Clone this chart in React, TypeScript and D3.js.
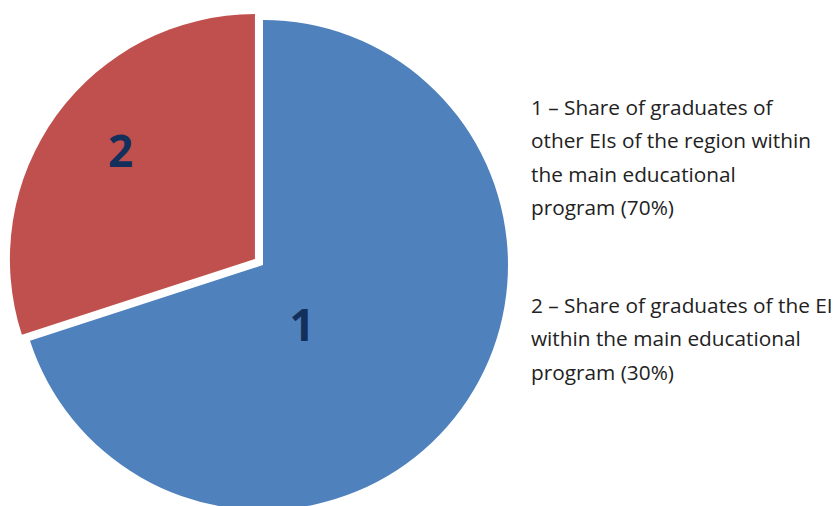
import React from "react";
import * as d3 from "d3";

const categories = ["1", "2"];
const values = [70, 30];
const colors = ["#4F81BD", "#C0504D"];
const legendLines = [
  ["1 – Share of graduates of", "other EIs of the region within", "the main educational", "program (70%)"],
  ["2 – Share of graduates of the EI", "within the main educational", "program (30%)"],
];
const explode = [0, 10];
// label placement: [radius, angle in degrees from top clockwise]
const labelPolar = [[71, 146.5], [173, 309]];

export default function App() {
  const W = 838, H = 506;
  const cx = 263, cy = 265, R = 245;
  const pie = d3.pie<number>().sort(null).value((d) => d)(values);
  const arc = d3.arc<d3.PieArcDatum<number>>().innerRadius(0).outerRadius(R);
  return (
    <svg width={W} height={H} style={{ position: "absolute", left: 0, top: 0, background: "#fff" }}>
      <g transform={`translate(${cx},${cy})`}>
        {pie.map((p, i) => {
          const mid = (p.startAngle + p.endAngle) / 2;
          const dx = Math.sin(mid) * explode[i];
          const dy = -Math.cos(mid) * explode[i];
          const [lr, la] = labelPolar[i];
          const a = (la * Math.PI) / 180;
          return (
            <g key={i} transform={`translate(${dx},${dy})`}>
              <path d={arc(p) || ""} fill={colors[i]} />
              <text
                x={Math.sin(a) * lr}
                y={-Math.cos(a) * lr}
                textAnchor="middle"
                dominantBaseline="central"
                fontFamily="'Open Sans', sans-serif"
                fontWeight="bold"
                fontSize={44}
                fill="#132F5C"
              >
                {categories[i]}
              </text>
            </g>
          );
        })}
      </g>
      {legendLines.map((grp, gi) =>
        grp.map((line, li) => (
          <text
            key={gi + "-" + li}
            x={531}
            y={115 + gi * 198 + li * 33.3}
            fontFamily="'Open Sans', sans-serif"
            fontSize={20.8}
            fill="#222"
          >
            {line}
          </text>
        ))
      )}
    </svg>
  );
}
